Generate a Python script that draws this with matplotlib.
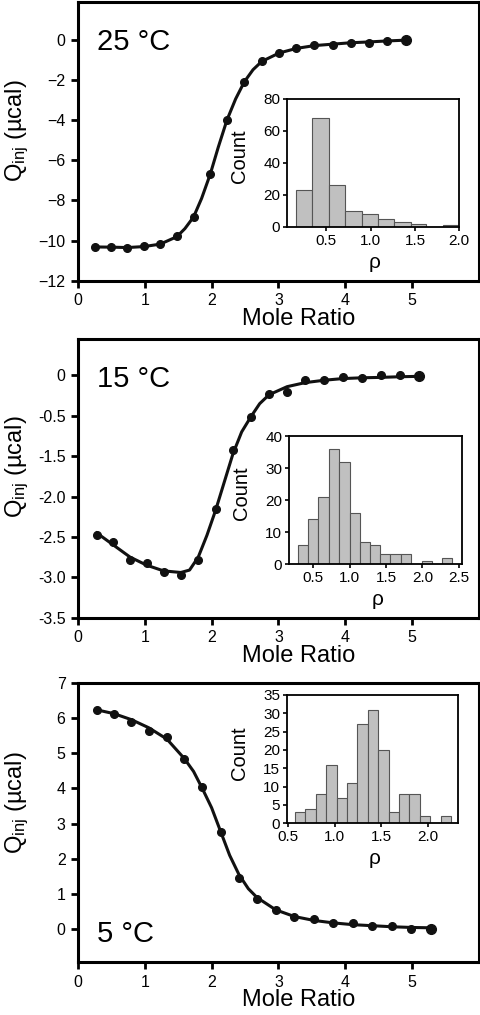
import matplotlib
matplotlib.use("Agg")
import matplotlib.pyplot as plt
import numpy as np

plt.rcParams['font.family'] = ['Liberation Sans', 'DejaVu Sans']
plt.rcParams['mathtext.fontset'] = 'custom'
plt.rcParams['mathtext.rm'] = 'Liberation Sans'
plt.rcParams['mathtext.it'] = 'Liberation Sans'

# 25 C titration
x25 = [0.26, 0.50, 0.74, 0.99, 1.23, 1.48, 1.73, 1.98, 2.23, 2.49, 2.75, 3.01,
       3.27, 3.54, 3.81, 4.08, 4.35, 4.62, 4.91]
q25 = [-10.31, -10.31, -10.36, -10.28, -10.18, -9.79, -8.82, -6.69, -4.00, -2.10,
       -1.09, -0.67, -0.44, -0.28, -0.25, -0.15, -0.15, -0.08, -0.02]
fx25 = [0.26, 0.50, 0.74, 0.99, 1.23, 1.48, 1.60, 1.73, 1.85, 1.98, 2.10, 2.23, 2.36,
        2.49, 2.62, 2.75, 3.01, 3.27, 3.54, 3.81, 4.08, 4.35, 4.62, 4.91]
fq25 = [-10.31, -10.32, -10.34, -10.29, -10.17, -9.80, -9.40, -8.82, -7.90, -6.69,
        -5.35, -4.00, -2.95, -2.10, -1.50, -1.09, -0.67, -0.44, -0.30, -0.23, -0.16,
        -0.12, -0.07, -0.03]
rho25_edges = [0.16, 0.34, 0.53, 0.71, 0.90, 1.08, 1.26, 1.45, 1.63, 1.82, 2.00]
cnt25 = [23, 68, 26, 10, 8, 5, 3, 2, 0, 1]

# 15 C titration (y in axis units; tick labels as printed)
x15 = [0.28, 0.53, 0.78, 1.03, 1.28, 1.54, 1.80, 2.06, 2.32, 2.59, 2.86, 3.13,
       3.40, 3.69, 3.96, 4.25, 4.53, 4.82, 5.11]
q15 = [-1.98, -2.06, -2.28, -2.32, -2.43, -2.47, -2.29, -1.65, -0.93, -0.52, -0.23,
       -0.20, -0.06, -0.06, -0.02, -0.03, 0.00, 0.00, -0.01]
fx15 = [0.28, 0.53, 0.78, 1.03, 1.28, 1.54, 1.67, 1.80, 1.93, 2.06, 2.19, 2.32, 2.45,
        2.59, 2.72, 2.86, 3.13, 3.40, 3.69, 3.96, 4.25, 4.53, 4.82, 5.11]
fq15 = [-1.95, -2.10, -2.25, -2.35, -2.42, -2.44, -2.41, -2.25, -1.98, -1.67, -1.32,
        -0.97, -0.70, -0.51, -0.35, -0.24, -0.14, -0.09, -0.06, -0.04, -0.03, -0.025,
        -0.017, -0.012]
ticks15 = [0, -0.5, -1.0, -1.5, -2.0, -2.5, -3.0]
ticklabels15 = ['0', '-0.5', '-1.5', '-2.0', '-2.5', '-3.0', '-3.5']
rho15_edges = [0.29, 0.43, 0.57, 0.71, 0.85, 1.00, 1.14, 1.28, 1.42, 1.56, 1.70,
               1.85, 1.99, 2.13, 2.27, 2.41]
cnt15 = [6, 14, 21, 36, 32, 16, 7, 6, 3, 3, 3, 0, 1, 0, 2]

# 5 C titration
x5 = [0.28, 0.54, 0.80, 1.06, 1.33, 1.59, 1.86, 2.14, 2.41, 2.68, 2.96, 3.24,
      3.53, 3.82, 4.11, 4.40, 4.70, 4.99, 5.29]
q5 = [6.23, 6.12, 5.89, 5.62, 5.45, 4.83, 4.03, 2.76, 1.45, 0.85, 0.55, 0.36,
      0.28, 0.19, 0.17, 0.10, 0.08, 0.02, 0.00]
fx5 = [0.28, 0.54, 0.80, 1.06, 1.33, 1.59, 1.73, 1.86, 2.00, 2.14, 2.27, 2.41, 2.55,
       2.68, 2.96, 3.24, 3.53, 3.82, 4.11, 4.40, 4.70, 4.99, 5.29]
fq5 = [6.23, 6.12, 5.95, 5.72, 5.40, 4.85, 4.48, 4.00, 3.45, 2.75, 2.10, 1.55, 1.15,
       0.90, 0.55, 0.36, 0.25, 0.18, 0.13, 0.10, 0.07, 0.05, 0.04]
rho5_edges = [0.57, 0.68, 0.80, 0.91, 1.02, 1.13, 1.24, 1.36, 1.47, 1.58, 1.69,
              1.80, 1.92, 2.03, 2.14, 2.25]
cnt5 = [3, 4, 8, 16, 7, 11, 27, 31, 20, 3, 8, 8, 2, 0, 2]

fig = plt.figure(figsize=(4.8, 10.15), dpi=100)

main_pos = [[0.1625, 0.7232, 0.835, 0.2745],
            [0.1625, 0.3914, 0.835, 0.2746],
            [0.1625, 0.0519, 0.835, 0.2755]]
inset_pos = [[0.5985, 0.7764, 0.3583, 0.1261],
             [0.6027, 0.4443, 0.3590, 0.1261],
             [0.5985, 0.1889, 0.3563, 0.1264]]

panels = [
    dict(x=x25, q=q25, fx=fx25, fq=fq25, ylim=(-12, 1.85), yticks=list(range(-12, 1, 2)),
         ylabels=None, label='25 °C', ly=0.829, edges=rho25_edges, cnt=cnt25,
         ixlim=(0.06, 2.0), ixticks=[0.5, 1.0, 1.5, 2.0], iylim=(0, 80),
         iyticks=[0, 20, 40, 60, 80]),
    dict(x=x15, q=q15, fx=fx15, fq=fq15, ylim=(-3.0, 0.45), yticks=ticks15,
         ylabels=ticklabels15, label='15 °C', ly=0.829, edges=rho15_edges, cnt=cnt15,
         ixlim=(0.17, 2.54), ixticks=[0.5, 1.0, 1.5, 2.0, 2.5], iylim=(0, 40),
         iyticks=[0, 10, 20, 30, 40]),
    dict(x=x5, q=q5, fx=fx5, fq=fq5, ylim=(-0.94, 7), yticks=list(range(0, 8)),
         ylabels=None, label='5 °C', ly=0.074, edges=rho5_edges, cnt=cnt5,
         ixlim=(0.49, 2.33), ixticks=[0.5, 1.0, 1.5, 2.0], iylim=(0, 35),
         iyticks=[0, 5, 10, 15, 20, 25, 30, 35]),
]

ylab_y = [0.54, 0.54, 0.57]

for i, p in enumerate(panels):
    ax = fig.add_axes(main_pos[i])
    ax.plot(p['fx'], p['fq'], color='#111111', lw=2.2, zorder=2)
    ax.plot(p['x'][:-1], p['q'][:-1], 'o', color='#111111', ms=5.5, zorder=3)
    ax.plot(p['x'][-1:], p['q'][-1:], 'o', color='#111111', ms=7, zorder=3)
    ax.set_xlim(0, 6)
    ax.set_ylim(*p['ylim'])
    ax.set_xticks([0, 1, 2, 3, 4, 5])
    ax.set_yticks(p['yticks'])
    if p['ylabels'] is not None:
        ax.set_yticklabels(p['ylabels'])
    for s in ax.spines.values():
        s.set_linewidth(2.2)
    ax.tick_params(direction='out', length=5, width=2, labelsize=11.5, pad=4)
    ax.set_xlabel('Mole Ratio', fontsize=17)
    ax.xaxis.set_label_coords(0.55, -0.097)
    ax.set_ylabel(r'Q$_{\mathrm{inj}}$ (µcal)', fontsize=17)
    ax.yaxis.set_label_coords(-0.118, ylab_y[i])
    ax.text(0.047, p['ly'], p['label'], transform=ax.transAxes, fontsize=21,
            va='baseline', ha='left')

    ia = fig.add_axes(inset_pos[i])
    edges = np.array(p['edges'])
    ia.bar(edges[:-1], p['cnt'], width=np.diff(edges), align='edge',
           color='#c0c0c0', edgecolor='#555555', linewidth=0.8)
    ia.set_xlim(*p['ixlim'])
    ia.set_ylim(*p['iylim'])
    ia.set_xticks(p['ixticks'])
    ia.set_yticks(p['iyticks'])
    for s in ia.spines.values():
        s.set_linewidth(1.3)
    ia.tick_params(direction='out', length=3, width=1.2, labelsize=11, pad=2)
    ia.set_ylabel('Count', fontsize=14.5)
    ia.yaxis.set_label_coords(-0.225, 0.55)
    ia.set_xlabel('ρ', fontsize=15)
    ia.xaxis.set_label_coords(0.51, -0.2)

fig.savefig('out.png', dpi=100)
